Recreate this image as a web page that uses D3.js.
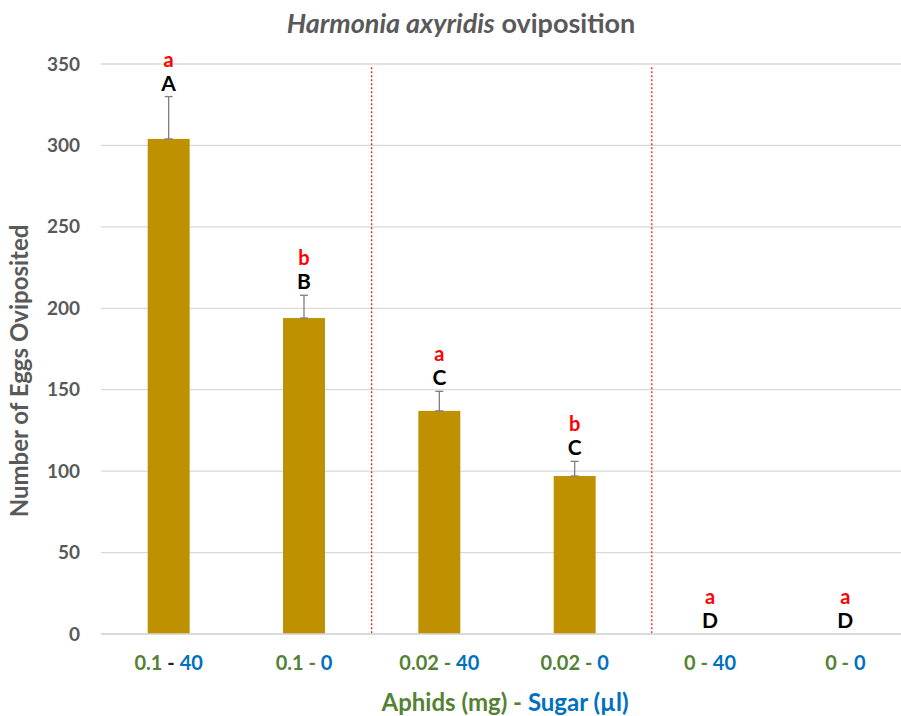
<!DOCTYPE html>
<html><head><meta charset="utf-8">
<script src="https://cdn.jsdelivr.net/npm/d3@7"></script>
<style>
html,body{margin:0;padding:0;background:#fff;}
svg{display:block;font-family:Lato,"Open Sans",sans-serif;}
</style></head>
<body>
<svg id="chart" width="901" height="716"></svg>
<script>
// ---- data ----
const aphids = ["0.1", "0.1", "0.02", "0.02", "0", "0"];
const sugar = ["40", "0", "40", "0", "40", "0"];
const meanEggs = [304, 194, 137, 97, 0, 0];
const errorUp = [26, 14, 12, 9, 0, 0];
const upperLetters = ["A", "B", "C", "C", "D", "D"];
const lowerLetters = ["a", "b", "a", "b", "a", "a"];
const yTicks = [0, 50, 100, 150, 200, 250, 300, 350];
const dividerAt = [2, 4.07]; // in category units (group separators)

const svg = d3.select("#chart");
const margin = {left: 101, right: -12, top: 64, bottom: 82};
const W = 901, H = 716;
const cats = aphids.map((a, i) => i);

const x = d3.scaleBand().domain(cats).range([margin.left, W - margin.right])
  .paddingInner(0.69).paddingOuter(0.345);
const xIdx = d3.scaleLinear().domain([0, cats.length]).range([margin.left, W - margin.right]);
const y = d3.scaleLinear().domain([0, 350]).range([H - margin.bottom, margin.top]);

const gray = "#595959";

// gridlines
svg.append("g").selectAll("line").data(yTicks).join("line")
  .attr("x1", margin.left).attr("x2", W)
  .attr("y1", d => y(d)).attr("y2", d => y(d))
  .attr("stroke", "#d9d9d9").attr("stroke-width", 1.3);

// y axis labels
const yAxis = d3.axisLeft(y).tickValues(yTicks).tickSize(0).tickPadding(21);
const gy = svg.append("g").attr("transform", `translate(${margin.left},0)`).call(yAxis);
gy.select(".domain").remove();
gy.selectAll("text").attr("font-size", 19).attr("font-weight", 700).attr("fill", gray)
  .attr("font-family", "Lato, sans-serif");

// dividers
svg.append("g").selectAll("line").data(dividerAt).join("line")
  .attr("x1", d => xIdx(d)).attr("x2", d => xIdx(d))
  .attr("y1", y(348)).attr("y2", y(0))
  .attr("stroke", "#ff0000").attr("stroke-width", 1.2).attr("stroke-dasharray", "2,2");

// bars
svg.append("g").selectAll("rect").data(meanEggs).join("rect")
  .attr("x", (d, i) => x(i)).attr("width", x.bandwidth())
  .attr("y", d => y(d)).attr("height", d => y(0) - y(d))
  .attr("fill", "#bf9000");

// error bars
const eg = svg.append("g").attr("stroke", "#7f7f7f").attr("stroke-width", 1.3);
meanEggs.forEach((m, i) => {
  if (errorUp[i] <= 0) return;
  const cx = x(i) + x.bandwidth() / 2;
  eg.append("line").attr("x1", cx).attr("x2", cx).attr("y1", y(m)).attr("y2", y(m + errorUp[i]));
  eg.append("line").attr("x1", cx - 4).attr("x2", cx + 4).attr("y1", y(m + errorUp[i])).attr("y2", y(m + errorUp[i]));
  eg.append("line").attr("x1", cx - 4).attr("x2", cx + 4).attr("y1", y(m)).attr("y2", y(m));
});

// x axis line
svg.append("line").attr("x1", margin.left).attr("x2", W)
  .attr("y1", y(0)).attr("y2", y(0)).attr("stroke", "#d9d9d9").attr("stroke-width", 1.3);

// letters
const lg = svg.append("g").attr("text-anchor", "middle").attr("font-family", "Lato, sans-serif").attr("font-weight", 700);
meanEggs.forEach((m, i) => {
  const cx = x(i) + x.bandwidth() / 2;
  const top = y(m + errorUp[i]);
  lg.append("text").attr("x", cx).attr("y", top - 6).attr("font-size", 21).attr("fill", "#000").text(upperLetters[i]);
  lg.append("text").attr("x", cx).attr("y", top - 30).attr("font-size", 20).attr("fill", "#ff0000").text(lowerLetters[i]);
});

// x tick labels
const green = "#548235", blue = "#0070c0";
const xAxis = d3.axisBottom(x).tickSize(0).tickFormat(() => "");
const gx = svg.append("g").attr("transform", `translate(0,${y(0)})`).call(xAxis);
gx.select(".domain").remove();
gx.selectAll(".tick text").each(function(d) {
  const t = d3.select(this).attr("y", 36).attr("dy", 0).attr("font-size", 20).attr("font-weight", 700)
    .attr("font-family", "Lato, sans-serif");
  t.append("tspan").attr("fill", green).text(aphids[d]);
  t.append("tspan").attr("fill", d === 0 ? "#222" : green).text(" - ");
  t.append("tspan").attr("fill", blue).text(sugar[d]);
});

// x axis title
const xt = svg.append("text").attr("x", 505).attr("y", 711).attr("text-anchor", "middle")
  .attr("font-size", 24).attr("font-weight", 700);
xt.append("tspan").attr("fill", green).text("Aphids (mg) - ");
xt.append("tspan").attr("fill", blue).text("Sugar (µl)");

// y axis title
svg.append("text").attr("transform", "translate(28,371) rotate(-90)").attr("text-anchor", "middle")
  .attr("font-size", 24).attr("font-weight", 700).attr("fill", gray).text("Number of Eggs Oviposited");

// chart title
const tt = svg.append("text").attr("x", 461).attr("y", 33).attr("text-anchor", "middle")
  .attr("font-size", 27).attr("font-weight", 700).attr("fill", gray);
tt.append("tspan").attr("font-style", "italic").text("Harmonia axyridis");
tt.append("tspan").text(" oviposition");
</script>
</body></html>
